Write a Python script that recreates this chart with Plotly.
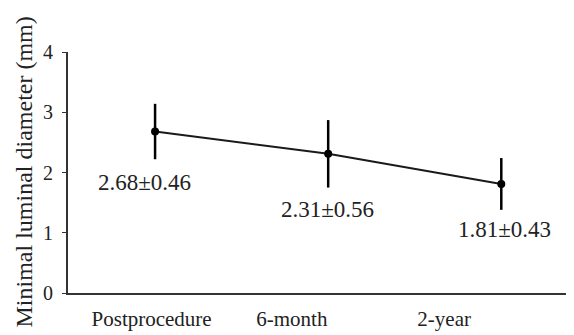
import plotly.graph_objects as go

categories = ["Postprocedure", "6-month", "2-year"]
means = [2.68, 2.31, 1.81]
sds = [0.46, 0.56, 0.43]
y_ticks = [0, 1, 2, 3, 4]

# style constants (positions of tick labels/annotation nudges)
x_pos = list(range(len(categories)))
tick_pos = [-0.02, 0.79, 1.67]
label_xshift = [-11, -1, 3]
label_yshift = [-23, -22, -20]

FONT = "Liberation Serif, Times New Roman, serif"

fig = go.Figure()
fig.add_trace(go.Scatter(
    x=x_pos, y=means,
    mode="lines+markers",
    line=dict(color="#1a1a1a", width=2),
    marker=dict(color="black", size=8),
    error_y=dict(type="data", array=sds, visible=True, color="black",
                 thickness=2.5, width=0),
    showlegend=False,
))

for i, (m, s) in enumerate(zip(means, sds)):
    fig.add_annotation(
        x=x_pos[i], y=m - s, xref="x", yref="y",
        text=f"{m:.2f}±{s:.2f}", showarrow=False,
        xanchor="center", yanchor="middle",
        xshift=label_xshift[i], yshift=label_yshift[i],
        font=dict(family=FONT, size=23, color="#222"),
    )

fig.add_annotation(
    x=0, y=0.5, xref="paper", yref="paper",
    text="Minimal luminal diameter (mm)", textangle=-90,
    showarrow=False, xanchor="center", yanchor="middle", xshift=-45,
    font=dict(family=FONT, size=24, color="#222"),
)

fig.update_layout(
    width=574, height=335,
    margin=dict(l=60, r=8, t=44, b=50),
    paper_bgcolor="white", plot_bgcolor="white",
    font=dict(family=FONT, color="#222"),
    xaxis=dict(
        range=[-0.503, 2.42], showgrid=False, zeroline=False,
        showline=True, linecolor="#333", linewidth=2,
        tickmode="array", tickvals=tick_pos, ticktext=categories,
        ticks="", ticklabelstandoff=6,
        tickfont=dict(family=FONT, size=21, color="#222"),
    ),
    yaxis=dict(
        range=[0, 4], showgrid=False, zeroline=False,
        showline=True, linecolor="#333", linewidth=2,
        tickmode="array", tickvals=y_ticks,
        ticks="outside", ticklen=4, tickcolor="#333",
        ticklabelstandoff=5,
        tickfont=dict(family=FONT, size=20, color="#222"),
    ),
)

fig.write_html("out.html")
